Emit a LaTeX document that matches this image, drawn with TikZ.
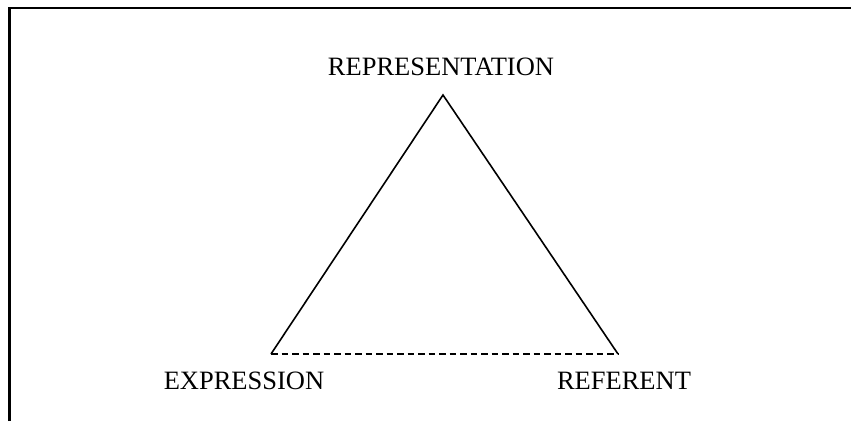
\documentclass[tikz,border=0pt]{standalone}
\usepackage{fontspec}
\setmainfont{Liberation Serif}
\begin{document}
\begin{tikzpicture}[x=1pt,y=-1pt,
  lbl/.style={font=\fontsize{26.5}{30}\selectfont, inner sep=0pt, anchor=center},
  edge/.style={line width=1.6pt},
  frameline/.style={line width=2.2pt}]
\useasboundingbox (0,0) rectangle (851,421);
\coordinate (ftl) at (9.5,8);
\coordinate (ftr) at (851,8);
\coordinate (fbl) at (9.5,421);
\draw[frameline] (fbl) -- (ftl) -- (ftr);
\coordinate (top) at (443,95);
\coordinate (left) at (271,354);
\coordinate (right) at (618,354);
\draw[edge] (left) -- (top) -- (right);
\draw[edge, dash pattern=on 6.5pt off 4pt] (left) -- (right);
\node[lbl] (rep) at (441,67) {REPRESENTATION};
\node[lbl] (exp) at (244,381) {EXPRESSION};
\node[lbl] (ref) at (624,381) {REFERENT};
\end{tikzpicture}
\end{document}
